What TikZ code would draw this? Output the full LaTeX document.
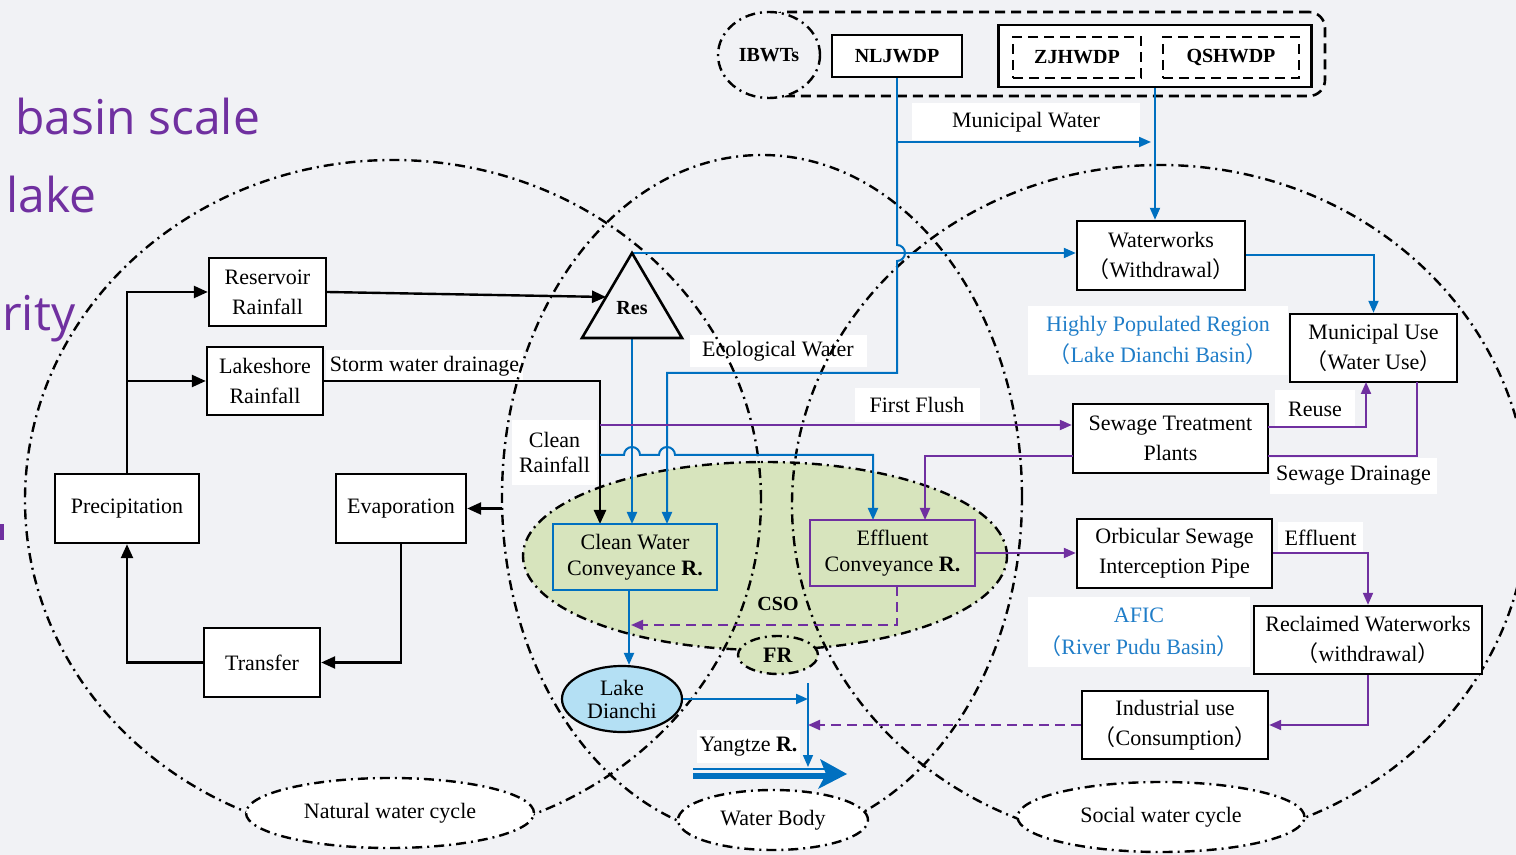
\documentclass[tikz,border=0pt]{standalone}
\usepackage{fontspec}
\setmainfont{Liberation Serif}
\newfontfamily\cjkf{Noto Sans CJK SC}
\newfontfamily\sansp{Open Sans}
\usetikzlibrary{arrows.meta,shapes.geometric,calc}
\definecolor{bg}{RGB}{241,242,245}
\definecolor{myblue}{RGB}{0,112,192}
\definecolor{mypurple}{RGB}{112,48,160}
\definecolor{txtblue}{RGB}{31,125,200}
\definecolor{csog}{RGB}{215,228,189}
\definecolor{lakec}{RGB}{180,224,244}
\newcommand{\flp}{{\cjkf （}}
\newcommand{\frp}{{\cjkf ）}}
\begin{document}
\begin{tikzpicture}[x=0.5pt,y=-0.5pt,
  font=\fontsize{11pt}{15pt}\selectfont,
  box/.style={draw=black, line width=1.2pt, fill=white, align=center, inner sep=0pt},
  lbl/.style={fill=white, align=center, inner sep=0pt},
  dd/.style={line width=1.2pt, dash pattern=on 5pt off 2.5pt on 1pt off 2.5pt},
  blk/.style={line width=1.2pt, -{Triangle[length=7pt,width=6pt]}},
  bl/.style={draw=myblue, line width=1pt, -{Triangle[length=6pt,width=5pt]}},
  pu/.style={draw=mypurple, line width=1pt, -{Triangle[length=6pt,width=5pt]}},
  pdash/.style={dash pattern=on 5pt off 3pt},
  sel/.style={ellipse, draw, dd, inner sep=0pt},
]
\useasboundingbox (0,0) rectangle (1516,855);
\clip (0,0) rectangle (1516,855);
\fill[bg] (0,0) rectangle (1516,855);

% purple side texts
\node[anchor=base west, inner sep=0pt, text=mypurple, font=\sansp\fontsize{24pt}{28pt}\selectfont] (t1) at (15,135) {basin scale};
\node[anchor=base west, inner sep=0pt, text=mypurple, font=\sansp\fontsize{24pt}{28pt}\selectfont] (t2) at (6,213) {lake};
\node[anchor=base west, inner sep=0pt, text=mypurple, font=\sansp\fontsize{24pt}{28pt}\selectfont] (t3) at (2,331) {rity};
\fill[mypurple] (0,524) rectangle (4,540);

% CSO and FR regions
\node[sel, fill=csog, minimum width=242pt, minimum height=94pt] (cso) at (765,556) {};
\node[font=\bfseries] (csot) at (778,604) {CSO};
\node[sel, fill=csog, minimum width=40pt, minimum height=19pt] (fr) at (778,655) {\textbf{FR}};

% labels
\node[lbl, minimum width=114pt, minimum height=18.5pt] (mwl) at (1026,122) {Municipal Water};
\node[lbl, minimum width=88.5pt, minimum height=16pt] (ecol) at (778,351) {Ecological Water};
\node[lbl, minimum width=62.5pt, minimum height=17pt] (ffl) at (917,405) {First Flush};
\node[lbl, minimum width=98.5pt, minimum height=16pt] (storml) at (424.5,366) {Storm water drainage};
\node[lbl, minimum width=42.5pt, minimum height=32.5pt, font=\fontsize{11pt}{12.5pt}\selectfont] (crl) at (554.5,452.5) {Clean\\Rainfall};
\node[lbl, minimum width=130pt, minimum height=34.5pt, text=txtblue, font=\fontsize{11pt}{15.5pt}\selectfont] (hpr) at (1158,340.5) {Highly Populated Region\\\flp Lake Dianchi Basin\frp};
\node[lbl, minimum width=40pt, minimum height=19pt] (reusel) at (1315,409) {Reuse};
\node[lbl, minimum width=83.5pt, minimum height=18pt] (sdl) at (1353.5,476) {Sewage Drainage};
\node[lbl, minimum width=42.5pt, minimum height=15.5pt] (effl) at (1320.5,537.5) {Effluent};
\node[lbl, minimum width=111pt, minimum height=35pt, text=txtblue, font=\fontsize{11pt}{16pt}\selectfont] (afic) at (1139,632) {AFIC\\\flp River Pudu Basin\frp};
\node[lbl, minimum width=51.5pt, minimum height=16.5pt] (yzl) at (748.5,746.5) {Yangtze \textbf{R.}};

% big cycle circles
\draw[dd] (393,500) ellipse [x radius=184pt, y radius=170pt];
\draw[dd] (762,497) ellipse [x radius=130pt, y radius=171pt];
\draw[dd] (1160,505) ellipse [x radius=184pt, y radius=170pt];

% boxes
\node[box, minimum width=58.5pt, minimum height=34pt] (resr) at (267.5,292) {Reservoir\\Rainfall};
\node[box, minimum width=58pt, minimum height=34pt] (lake) at (265,381) {Lakeshore\\Rainfall};
\node[box, minimum width=72pt, minimum height=34.5pt] (prec) at (127,508.5) {Precipitation};
\node[box, minimum width=65pt, minimum height=34.5pt] (evap) at (401,508.5) {Evaporation};
\node[box, minimum width=58pt, minimum height=34.5pt] (trans) at (262,662.5) {Transfer};
\node[box, minimum width=84pt, minimum height=34.5pt] (ww) at (1161,255.5) {Waterworks\\\flp Withdrawal\frp};
\node[box, minimum width=83.5pt, minimum height=34pt] (mu) at (1373.5,348) {Municipal Use\\\flp Water Use\frp};
\node[box, minimum width=97.5pt, minimum height=34.5pt] (stp) at (1170.5,438.5) {Sewage Treatment\\Plants};
\node[box, minimum width=97.5pt, minimum height=34.5pt] (osip) at (1174.5,553.5) {Orbicular Sewage\\Interception Pipe};
\node[box, minimum width=114pt, minimum height=34pt] (rw) at (1368,640) {Reclaimed Waterworks\\\flp withdrawal\frp};
\node[box, minimum width=93pt, minimum height=34pt] (iu) at (1175,725) {Industrial use\\\flp Consumption\frp};

% top: IBWTs group
\node[draw, line width=1.3pt, pdash, rounded corners=8pt, minimum width=277.5pt, minimum height=42pt, inner sep=0pt] (ibg) at (1047.5,54) {};
\node[sel, fill=bg, minimum width=51pt, minimum height=43pt, font=\bfseries] (ibw) at (769,55) {IBWTs};
\node[box, minimum width=65pt, minimum height=21pt, font=\bfseries] (nl) at (897,56) {NLJWDP};
\node[box, minimum width=156.5pt, minimum height=31pt] (outer) at (1155,56) {};
\node[box, pdash, minimum width=64pt, minimum height=20.5pt, font=\bfseries] (zj) at (1077,57.5) {ZJHWDP};
\node[box, pdash, minimum width=68pt, minimum height=20.5pt, font=\bfseries] (qs) at (1231,57.5) {QSHWDP};

% coordinates for connector ends
\coordinate (resA) at (632,253);
\coordinate (resB) at (632,338);
\coordinate (resL) at (606,297);
\coordinate (evapin) at (502,508.5);
\coordinate (cwin1) at (600,524);
\coordinate (cwin3) at (667,524);
\coordinate (mwsplit) at (897,142);
\coordinate (mwtip) at (1151,142);
\coordinate (crstart) at (600,455);
\coordinate (efin1) at (873,520);
\coordinate (efin2) at (925,520);
\coordinate (cwout) at (629,590);
\coordinate (ybarT) at (808,683);
\coordinate (ybarB) at (808,767);
\coordinate (ffstart) at (600,425);
\coordinate (stpL2) at (1073,456);
\coordinate (effout) at (897,586);
\coordinate (cwdash) at (631,625);
\coordinate (stpR1) at (1268,427);
\coordinate (muin) at (1366,382);
\coordinate (muout) at (1417,382);
\coordinate (stpR2) at (1268,456);

% lake Dianchi
\node[ellipse, draw, line width=1.1pt, fill=lakec, minimum width=60pt, minimum height=33pt, inner sep=0pt, align=center, font=\fontsize{11pt}{11.5pt}\selectfont] (ld) at (622,699) {Lake\\Dianchi};

% black connectors
\draw[blk] (prec.north) |- (resr.west);
\draw[blk] (prec.north |- lake.west) -- (lake.west);
\draw[blk] (trans.west) -| (prec.south);
\draw[blk] (evap.south) |- (trans.east);
\draw[blk] (evapin) -- (evap.east);
\draw[blk] (resr.east) -- (resL);
\draw[blk] (lake.east) -| (cwin1);

% blue connectors
\draw[bl] (nl.south) |- (mwtip);
\draw[bl] (mwsplit) -- (897,245) arc[start angle=90,end angle=-90,radius=4pt] -- (897,373) -| (cwin3);
\draw[bl] (outer.south) -- (outer.south |- ww.north);
\draw[bl] (resA) -- (resA -| ww.west);
\draw[bl] (resB) -- (resB |- cwin1);
\draw[bl] (crstart) -- (624,455) arc[start angle=180,end angle=0,radius=4pt] -- (659,455) arc[start angle=180,end angle=0,radius=4pt] -| (efin1);
\draw[bl] (ww.east) -| (mu.north);
\draw[bl] (cwout) -- (cwout |- ld.north);
\draw[bl] (ld.east) -- (ld.east -| ybarT);
\draw[bl, line width=0.8pt] (ybarT) -- (ybarB);

% purple connectors
\draw[pu] (ffstart) -- (ffstart -| stp.west);
\draw[pu] (stpL2) -| (efin2);
\draw[pu] (stpR1) -| (muin);
\draw[pu, -] (muout) |- (stpR2);
\draw[pu] (rw.south) |- (iu.east);
\draw[pu, pdash] (iu.west) -- (iu.west -| ybarT);
\draw[pu, pdash] (effout) |- (cwdash);

% conveyance boxes
\node[box, draw=myblue, fill=csog, minimum width=82pt, minimum height=33pt, font=\fontsize{11pt}{13pt}\selectfont] (cw) at (635,557) {Clean Water\\Conveyance \textbf{R.}};
\node[box, draw=mypurple, fill=csog, minimum width=82.5pt, minimum height=33pt, font=\fontsize{11pt}{13pt}\selectfont] (eff) at (892.5,553) {Effluent\\Conveyance \textbf{R.}};
\draw[pu] (eff.east) -- (eff.east -| osip.west);
\draw[pu] (osip.east) -| (rw.north);

% reservoir triangle
\draw[line width=1.3pt, fill=bg, line join=miter] (resA) -- (682,338) -- (582,338) -- cycle;
\node[font=\bfseries] (res) at (632,308) {Res};

% Yangtze river arrow
\coordinate (yzA) at (693,772);
\coordinate (yzB) at (847,774);
\draw[myblue, line width=1pt] (yzA |- 0,768.5) -- (828,768.5);
\fill[myblue] (yzA |- 0,772.5) rectangle (828,778.5);
\fill[myblue] (820,759) -- (yzB) -- (818,789) -- (826,774) -- cycle;

% bottom cycle names
\node[sel, fill=white, minimum width=144pt, minimum height=35pt] (nwc) at (390,813) {Natural water cycle};
\node[sel, fill=white, minimum width=95pt, minimum height=30pt] (wb) at (773,820) {Water Body};
\node[sel, fill=white, minimum width=143.5pt, minimum height=35pt] (swc) at (1161,817) {Social water cycle};
\end{tikzpicture}
\end{document}
